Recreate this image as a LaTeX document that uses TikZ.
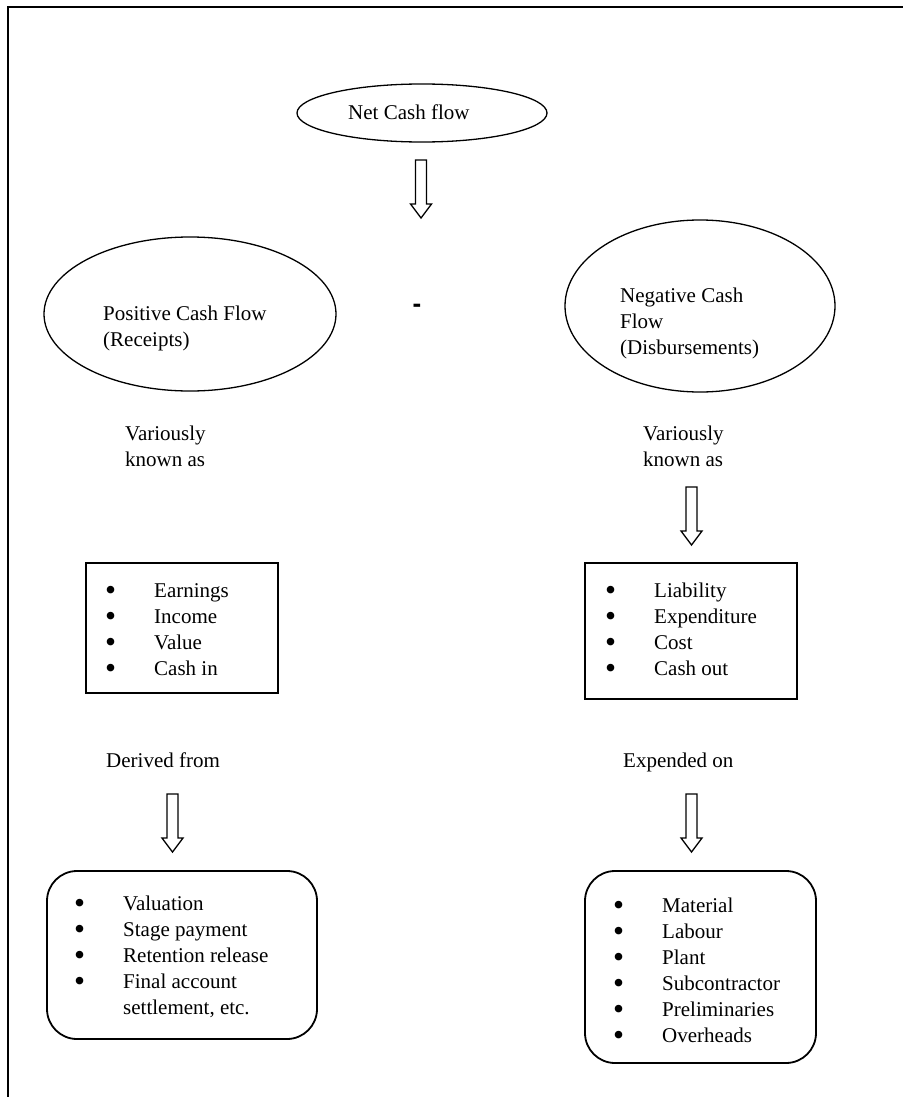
\documentclass[tikz,border=0pt]{standalone}
\usepackage{fontspec}
\usepackage{graphicx}
\setmainfont{Liberation Serif}
\newfontfamily\hyphenfont{Liberation Sans}
\usetikzlibrary{shapes.geometric}
\newcommand{\itm}[1]{\makebox[49pt][l]{\smash{\raisebox{-3.4pt}{\scalebox{1.5}{\textbullet}}}}#1}
\tikzset{
  txt/.style={inner sep=0pt, anchor=base west, align=left, font=\fontsize{21}{26}\selectfont},
  oval/.style={draw, ellipse, line width=1.3pt, inner sep=0pt},
  sqbox/.style={draw, rectangle, line width=2pt, inner sep=0pt},
  rbox/.style={draw, rectangle, rounded corners=30pt, line width=1.8pt, inner sep=0pt},
  fatarrow/.pic={\draw[line width=1.3pt, line join=miter] (-5.5,0) -- (5.5,0) -- (5.5,44) -- (10.5,44) -- (0,58) -- (-10.5,44) -- (-5.5,44) -- cycle;}
}
\begin{document}
\begin{tikzpicture}[x=1pt,y=-1pt]
\useasboundingbox (0,0) rectangle (903,1097);
% frame
\draw[line width=1.5pt] (8,1097) -- (8,7) -- (903,7);

% top ellipse
\node[oval, minimum width=250pt, minimum height=58pt] (net) at (422,113) {};
\node[txt] (nettxt) at (348,120) {Net Cash flow};
\coordinate (a1) at (421,160);
\pic at (a1) {fatarrow};

% positive / negative ellipses (base anchor = last line's baseline)
\node[oval, minimum width=292pt, minimum height=154pt] (pos) at (190,314) {};
\node[txt] (postxt) at (103,346) {Positive Cash Flow\\(Receipts)};
\node[oval, minimum width=270pt, minimum height=172pt] (neg) at (700,306) {};
\node[txt] (negtxt) at (620,354) {Negative Cash\\Flow\\(Disbursements)};
\node[inner sep=0pt, font=\hyphenfont\bfseries\fontsize{26}{26}\selectfont] (minus) at (417,308) {-};

% variously known as
\node[txt] (varL) at (125,466) {Variously\\known as};
\node[txt] (varR) at (643,466) {Variously\\known as};
\coordinate (a2) at (691.5,487);
\pic at (a2) {fatarrow};

% square boxes
\node[sqbox, minimum width=192pt, minimum height=130pt] (boxL) at (182,628) {};
\node[txt] (listL) at (105,675) {\itm{Earnings}\\\itm{Income}\\\itm{Value}\\\itm{Cash in}};
\node[sqbox, minimum width=212pt, minimum height=136pt] (boxR) at (691,631) {};
\node[txt] (listR) at (605,675) {\itm{Liability}\\\itm{Expenditure}\\\itm{Cost}\\\itm{Cash out}};

% derived / expended
\node[txt] (derived) at (106,767) {Derived from};
\node[txt] (expended) at (623,767) {Expended on};
\coordinate (a3) at (172.5,794);
\pic at (a3) {fatarrow};
\coordinate (a4) at (691.5,794);
\pic at (a4) {fatarrow};

% rounded boxes
\node[rbox, minimum width=270pt, minimum height=168pt] (rboxL) at (182,955) {};
\node[txt] (rlistL) at (74,1014) {\itm{Valuation}\\\itm{Stage payment}\\\itm{Retention release}\\\itm{Final account}\\\hspace*{49pt}settlement, etc.};
\node[rbox, minimum width=231pt, minimum height=192pt] (rboxR) at (700.5,967) {};
\node[txt] (rlistR) at (613,1042) {\itm{Material}\\\itm{Labour}\\\itm{Plant}\\\itm{Subcontractor}\\\itm{Preliminaries}\\\itm{Overheads}};
\end{tikzpicture}
\end{document}
